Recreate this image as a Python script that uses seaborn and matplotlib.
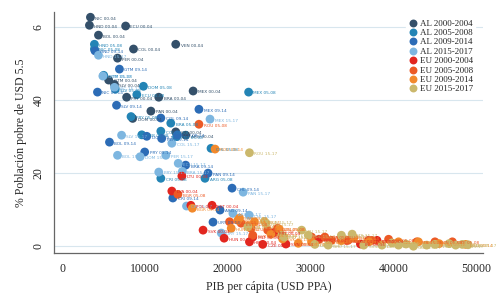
import numpy as np
import pandas as pd
import matplotlib
matplotlib.use('Agg')
import matplotlib.pyplot as plt
import seaborn as sns

# --- datos: PIB per cápita (USD PPA) y % pobreza USD 5.5 ---
grupos = ['AL 2000-2004', 'AL 2005-2008', 'AL 2009-2014', 'AL 2015-2017',
          'EU 2000-2004', 'EU 2005-2008', 'EU 2009-2014', 'EU 2015-2017']
colores = ['#34506a', '#2384b5', '#2c6cb6', '#7db6e0',
           '#e2261f', '#ec5a26', '#f2892c', '#cbb86c']

# AL 2000-2004
al0_pais = ['NIC', 'HND', 'ECU', 'BOL', 'VEN', 'COL', 'PER', 'GTM', 'SLV', 'PRY',
            'BRA', 'PAN', 'DOM', 'MEX', 'CRI', 'ARG']
al0_pib = [3400, 3280, 7650, 4370, 13700, 8600, 6670, 5600, 6300, 7770,
           11650, 10700, 8500, 15800, 13700, 14900]
al0_pob = [62.7, 60.5, 60.3, 57.8, 55.3, 54.0, 51.5, 45.5, 44.3, 40.8,
           40.8, 37.0, 35.0, 42.5, 31.3, 30.4]

# AL 2005-2008
al1_pais = ['HND', 'NIC', 'GTM', 'DOM', 'ECU', 'PRY', 'BRA', 'PER', 'COL', 'CHL',
            'ARG', 'CRI', 'MEX', 'PAN', 'SLV']
al1_pib = [3880, 3880, 5000, 9800, 9000, 8300, 13100, 9600, 11900, 17960,
           17230, 11900, 22500, 13800, 6400]
al1_pob = [55.3, 54.0, 46.8, 43.8, 41.5, 35.5, 33.7, 30.5, 31.5, 26.8,
           18.6, 18.6, 42.2, 30.0, 43.0]

# AL 2009-2014
al2_pais = ['GTM', 'NIC', 'SLV', 'COL', 'MEX', 'BOL', 'PRY', 'BRA', 'PAN', 'CRI',
            'ARG', 'CHL', 'DOM', 'PER', 'ECU', 'URY', 'HND']
al2_pib = [6900, 4250, 6550, 11900, 16500, 5700, 9950, 14900, 17600, 13350,
           19050, 20500, 10200, 12000, 13900, 18200, 3950]
al2_pob = [48.5, 42.2, 38.6, 35.1, 37.5, 28.5, 25.8, 22.2, 20.0, 13.2,
           9.9, 15.9, 30.1, 29.5, 30.5, 6.6, 53.5]

# AL 2015-2017
al3_pais = ['HND', 'GTM', 'NIC', 'BOL', 'SLV', 'COL', 'MEX', 'PRY', 'ECU', 'PER',
            'DOM', 'PAN', 'CHL', 'URY', 'CRI', 'BRA', 'ARG']
al3_pib = [4370, 4900, 6300, 6670, 7160, 13230, 17840, 11650, 14000, 12500,
           9400, 21840, 22570, 19200, 15000, 14500, 20600]
al3_pob = [52.3, 46.6, 43.5, 24.9, 30.4, 28.2, 34.8, 20.3, 22.7, 24.9,
           24.5, 14.8, 8.5, 3.6, 11.0, 20.5, 9.0]

# EU 2000-2004
eu0_pais = ['LTU', 'LVA', 'POL', 'EST', 'SVK', 'HUN', 'HRV', 'CZE', 'SVN', 'PRT',
            'GRC', 'ESP', 'ITA', 'CYP', 'MLT', 'IRL']
eu0_pib = [14440, 13230, 15530, 18080, 17000, 19540, 22600, 24200, 27000, 25600,
           31000, 34300, 37000, 38000, 23000, 36000]
eu0_pob = [19.2, 15.1, 11.2, 11.2, 4.4, 2.2, 1.2, 0.5, 0.6, 3.8,
           1.9, 1.6, 1.6, 1.6, 2.5, 0.6]

# EU 2005-2008
eu1_pais = ['ROU', 'BGR', 'LTU', 'LVA', 'POL', 'HUN', 'PRT', 'GRC', 'ESP', 'ITA',
            'SVN', 'CZE', 'GBR', 'FRA', 'DEU', 'EST', 'SVK', 'HRV']
eu1_pib = [16500, 13960, 22800, 24800, 30100, 32500, 34500, 37400, 39400, 42800,
           45000, 47100, 26000, 31700, 33700, 21600, 23000, 20200]
eu1_pob = [33.4, 14.2, 4.9, 4.4, 2.5, 1.6, 1.6, 1.6, 1.9, 1.2,
           1.2, 1.2, 4.9, 2.5, 2.5, 6.3, 3.0, 6.7]

# EU 2009-2014
eu2_pais = ['ROU', 'BGR', 'LTU', 'LVA', 'HRV', 'POL', 'HUN', 'PRT', 'GRC', 'ESP',
            'ITA', 'SVN', 'CZE', 'GBR', 'FRA', 'DEU', 'SWE', 'EST', 'SVK']
eu2_pib = [18450, 15700, 26200, 23200, 21200, 25200, 20400, 28500, 30100, 33700,
           35200, 37000, 40600, 43000, 45500, 48700, 21400, 22500, 26600]
eu2_pob = [26.6, 10.4, 4.7, 6.7, 7.1, 3.3, 4.9, 0.8, 1.2, 1.5,
           2.3, 1.2, 1.2, 1.2, 0.7, 0.5, 7.7, 5.6, 2.0]

# EU 2015-2017
eu3_pais = ['ROU', 'BGR', 'HRV', 'LVA', 'LTU', 'POL', 'HUN', 'PRT', 'GRC', 'ESP',
            'ITA', 'SVN', 'CZE', 'EST', 'SVK', 'GBR', 'FRA', 'BEL', 'FIN', 'DEU',
            'DNK', 'NLD', 'AUT', 'SWE']
eu3_pib = [22600, 24400, 24600, 22400, 28900, 29700, 26500, 26800, 32100, 33700,
           35000, 36400, 38600, 39800, 40600, 42400, 45000, 46700, 48300, 30500,
           41500, 44000, 47500, 49000]
eu3_pob = [25.6, 6.8, 6.3, 5.3, 4.4, 3.0, 3.0, 2.5, 0.3, 3.0,
           3.3, 0.3, 0.3, 0.9, 0.3, 0.0, 0.5, 0.7, 0.5, 0.5,
           0.6, 0.3, 0.3, 0.4]

periodos = ['00-04', '05-08', '09-14', '15-17'] * 2
paises = [al0_pais, al1_pais, al2_pais, al3_pais, eu0_pais, eu1_pais, eu2_pais, eu3_pais]
pibs = [al0_pib, al1_pib, al2_pib, al3_pib, eu0_pib, eu1_pib, eu2_pib, eu3_pib]
pobs = [al0_pob, al1_pob, al2_pob, al3_pob, eu0_pob, eu1_pob, eu2_pob, eu3_pob]

filas = []
for g, per, ps, xs, ys in zip(grupos, periodos, paises, pibs, pobs):
    for p, x, y in zip(ps, xs, ys):
        filas.append({'grupo': g, 'etiqueta': f'{p} {per}', 'pib': x, 'pobreza': y})
df = pd.DataFrame(filas)

sns.set_style('white')
plt.rcParams['font.family'] = ['Liberation Serif', 'DejaVu Serif']

fig = plt.figure(figsize=(5, 2.96), dpi=100)
ax = fig.add_axes([0.108, 0.146, 0.858, 0.813])

paleta = dict(zip(grupos, colores))
sns.scatterplot(data=df, x='pib', y='pobreza', hue='grupo', hue_order=grupos,
                palette=paleta, s=40, linewidth=0, ax=ax, zorder=3)

# etiquetas de cada punto
for _, r in df.iterrows():
    ax.annotate(r['etiqueta'], (r['pib'], r['pobreza']), xytext=(3.5, -1),
                textcoords='offset points', fontsize=3.1, va='center',
                color=paleta[r['grupo']], family='DejaVu Sans', zorder=4)

ax.set_xlim(-1000, 50800)
ax.set_ylim(-1.8, 64.1)
ax.set_xticks([0, 10000, 20000, 30000, 40000, 50000])
ax.set_yticks([0, 20, 40, 60])
ax.set_yticklabels(['0', '20', '40', '6'], rotation=90, va='center')
ax.tick_params(axis='both', labelsize=8.5, length=4, color='#666666', direction='out')
ax.tick_params(axis='y', length=3)
ax.grid(axis='y', color='#d8e6ee', lw=0.8)
ax.set_axisbelow(True)
for s in ['top', 'right']:
    ax.spines[s].set_visible(False)
for s in ['left', 'bottom']:
    ax.spines[s].set_color('#666666')
    ax.spines[s].set_linewidth(0.9)

ax.set_xlabel('PIB per cápita (USD PPA)', fontsize=8.5)
ax.set_ylabel('% Población pobre de USD 5.5', fontsize=8.5)

leg = ax.legend(loc='upper left', bbox_to_anchor=(0.81, 1.0), frameon=True,
                fontsize=6.5, labelspacing=0.12, handletextpad=0.2,
                borderpad=0.3, markerscale=0.9, handlelength=1.0)
leg.get_frame().set_edgecolor('white')
leg.get_frame().set_alpha(1)
leg.set_zorder(10)

fig.savefig('out.png', dpi=100)
